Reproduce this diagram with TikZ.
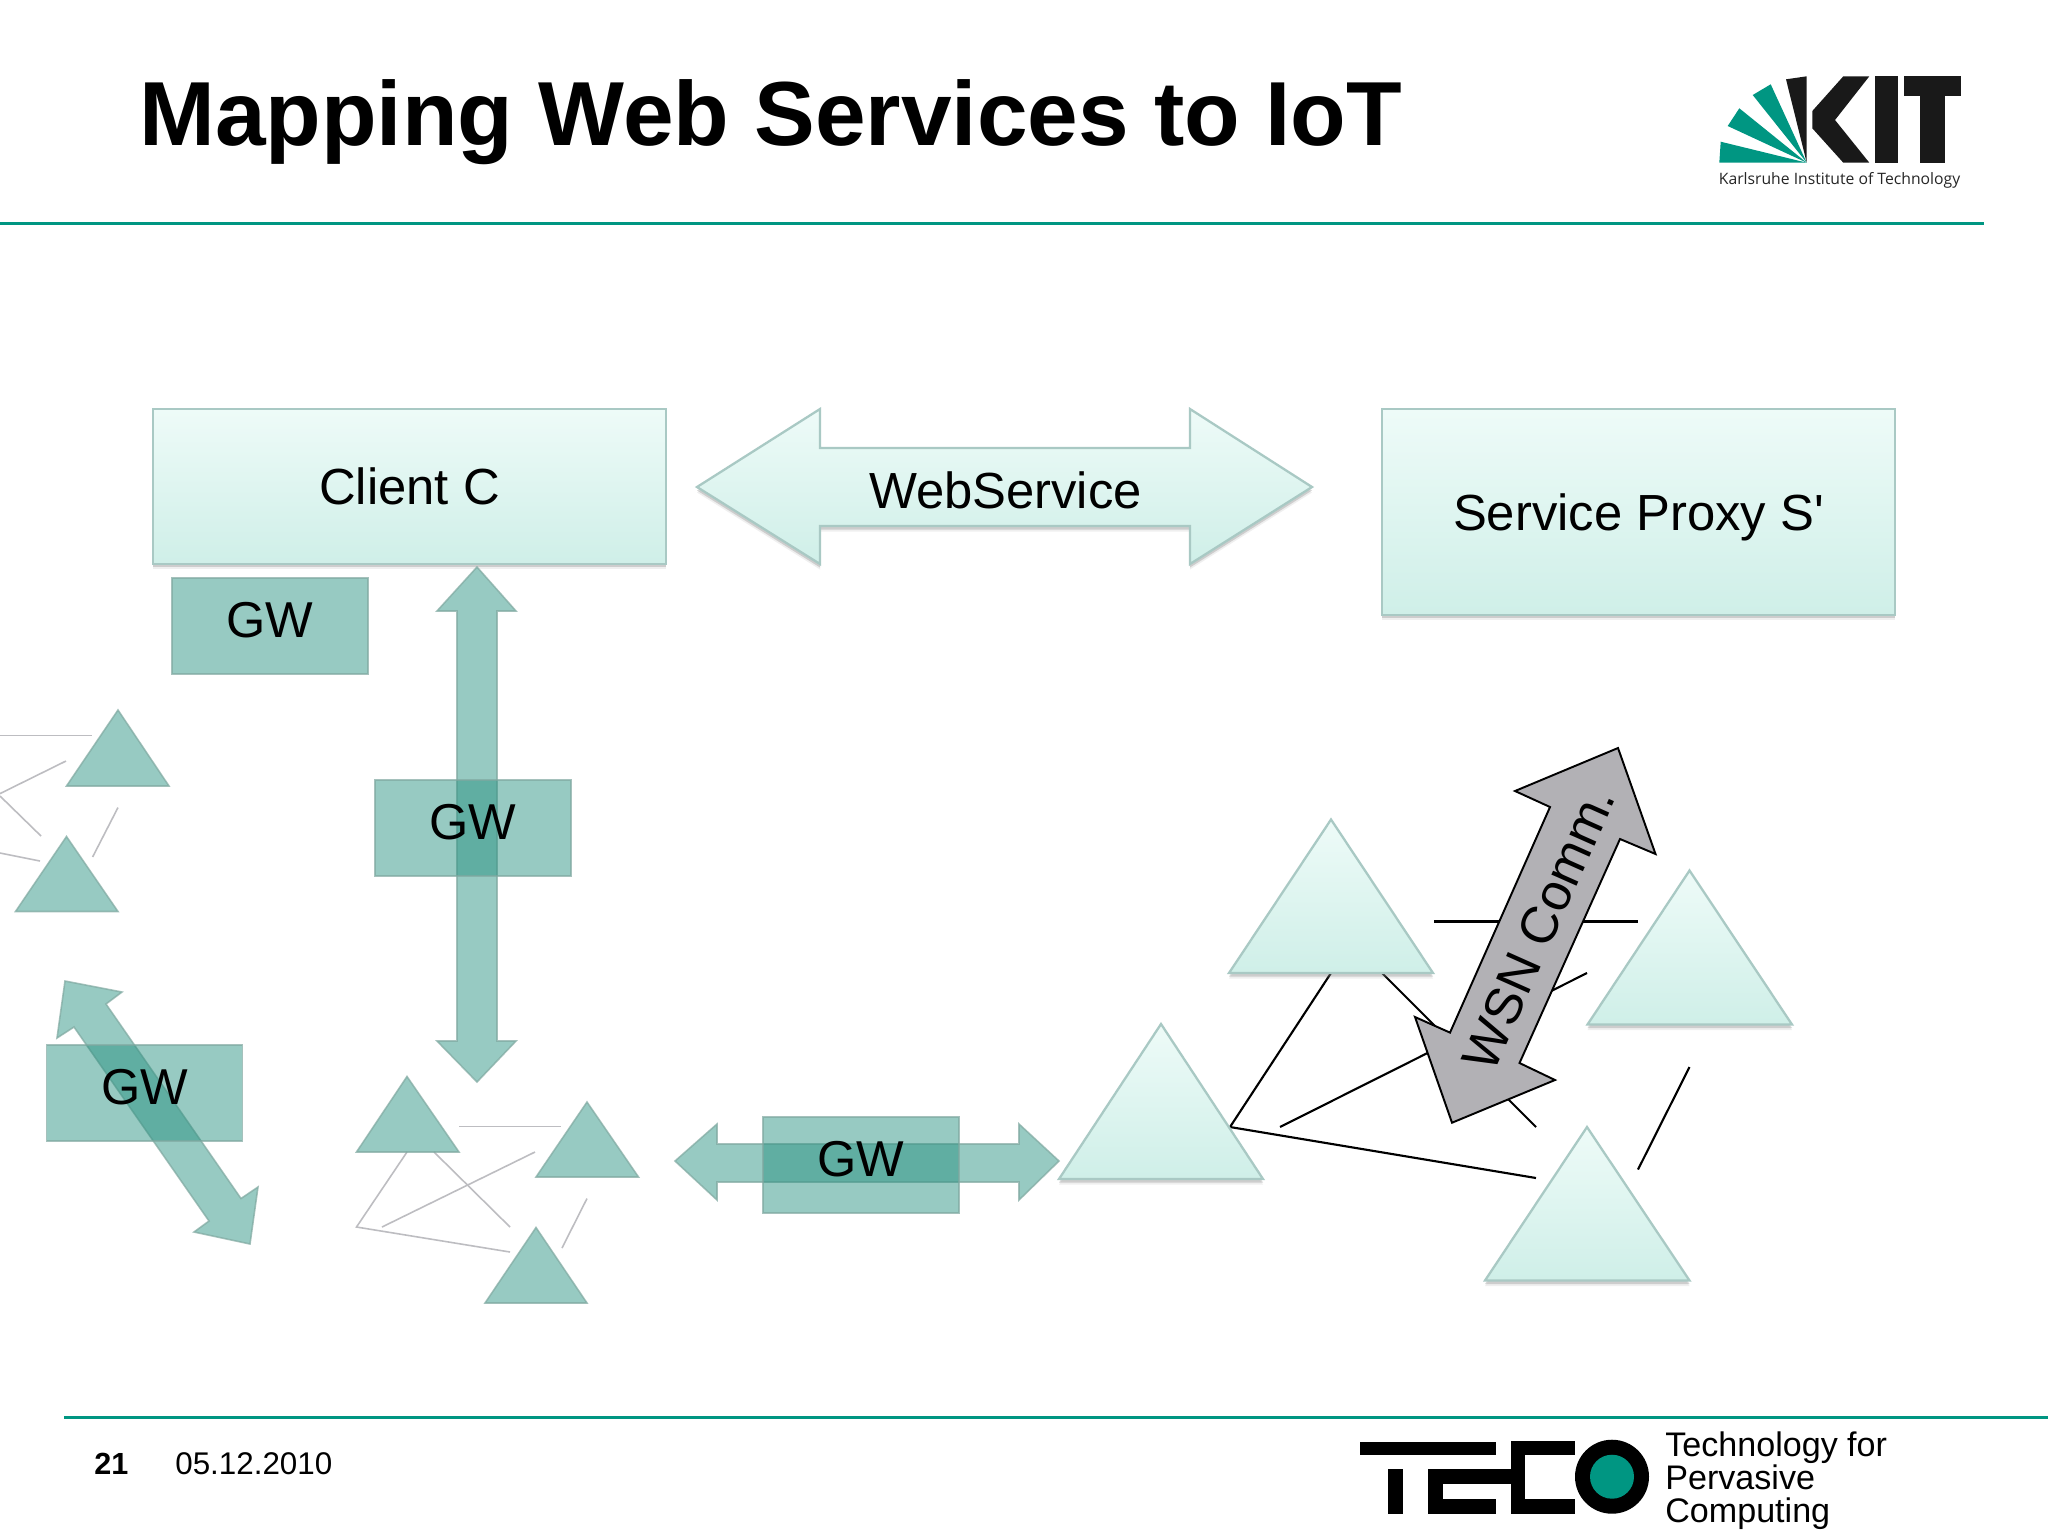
\documentclass[tikz,border=0pt]{standalone}
\usepackage{fontspec}
\setmainfont{Liberation Sans}
\newfontfamily\kitfont{Open Sans}
\usetikzlibrary{shadows}
\definecolor{kitgreen}{HTML}{009682}
\definecolor{mintT}{HTML}{EEFBF8}
\definecolor{mintB}{HTML}{CFEFE8}
\definecolor{mintE}{HTML}{A9C9C4}
\definecolor{tealF}{HTML}{248F7E}
\definecolor{tealE}{HTML}{7FA8A0}
\definecolor{faint}{HTML}{BDBDC1}
\definecolor{wsn}{HTML}{B2B1B5}
\newcommand{\sz}[1]{\fontsize{#1}{#1}\selectfont}
\tikzset{
  x=0.02cm,y=-0.02cm,
  softshadow/.style={
    drop shadow={shadow xshift=0pt,shadow yshift=-0.11cm,fill=black!50,opacity=.12},
    drop shadow={shadow xshift=0pt,shadow yshift=-0.07cm,fill=black!50,opacity=.3}},
  mint/.style={top color=mintT,bottom color=mintB,draw=mintE,line width=1.3pt,softshadow},
  mintbox/.style={mint,rectangle,inner sep=0pt,font=\sz{28.9},text height=20.8pt,text depth=0pt},
  tealshape/.style={fill=tealF,fill opacity=.47,draw=tealE,draw opacity=.7,line width=.9pt},
  gwbox/.style={tealshape,rectangle,minimum width=3.92cm,minimum height=1.92cm,inner sep=0pt,
    text opacity=1,font=\sz{28.7},text height=20.4pt,text depth=6.8pt},
  faintline/.style={draw=faint,line width=.9pt},
  blackline/.style={draw=black,line width=1.2pt},
  lbl/.style={inner sep=0pt,font=\sz{28.9},text height=20.8pt,text depth=0pt},
}
\begin{document}
\begin{tikzpicture}
\useasboundingbox (0,0) rectangle (2048,1536);
\fill[white] (0,0) rectangle (2048,1536);

% title and rules
\node[anchor=base west,inner sep=0pt,font=\sz{51.8}\bfseries] (title) at (139,145) {Mapping Web Services to IoT};
\draw[kitgreen,line width=1.7pt] (0,223.5) -- (1984,223.5);
\draw[kitgreen,line width=1.7pt] (64,1417.5) -- (2048,1417.5);

% KIT logo
\fill[kitgreen] (1719.3,162.7) -- (1720.7,141.7) -- (1806.7,162.7) -- cycle;
\fill[kitgreen] (1727.7,126) -- (1739.3,108.3) -- (1806.7,162.7) -- cycle;
\fill[kitgreen] (1752.7,95) -- (1770.7,84.3) -- (1806.7,162.7) -- cycle;
\fill[black!90] (1786,79.3) -- (1806.7,76.3) -- (1806.7,162.7) -- cycle;
\fill[black!90] (1812.3,111) -- (1843.3,76.3) -- (1869.3,76.3) -- (1835,120) -- (1869.3,162.7) -- (1843.3,162.7) -- (1812.3,128.3) -- cycle;
\fill[black!90] (1875,76.3) rectangle (1898.3,162.7);
\fill[black!90] (1903.7,76.3) rectangle (1960.7,96);
\fill[black!90] (1920,96) rectangle (1945,162.7);
\node[anchor=base west,inner sep=0pt,font=\kitfont\sz{8.95},text=black!85] (kitname) at (1718.5,184.5) {Karlsruhe Institute of Technology};

% footer
\node[anchor=base west,inner sep=0pt,font=\sz{17.4}\bfseries] (pageno) at (94,1474) {21};
\node[anchor=base west,inner sep=0pt,font=\sz{17.85}] (datetext) at (175,1474) {05.12.2010};
% TECO logo
\fill[black] (1360,1441.5) rectangle (1496,1455);
\fill[black] (1388,1469) rectangle (1403,1513.5);
\fill[black] (1428,1469) rectangle (1511,1483.7);
\fill[black] (1428,1469) rectangle (1443,1513.5);
\fill[black] (1428,1499) rectangle (1496,1513.5);
\fill[black] (1511,1440.5) rectangle (1525,1513.5);
\fill[black] (1511,1440.5) rectangle (1575,1455);
\fill[black] (1511,1499) rectangle (1575,1513.5);
\fill[black] (1612,1476.7) ellipse [x radius=37,y radius=37];
\fill[kitgreen] (1612,1476.7) ellipse [x radius=22,y radius=22];
\node[anchor=west,inner sep=0pt,align=left,font=\fontsize{19.4}{18.8}\selectfont] (tecotext) at (1665,1480.6) {Technology for\\Pervasive\\Computing};

% Upper boxes
\node[mintbox,minimum width=10.26cm,minimum height=3.1cm] (client) at (409.5,486.5) {Client C};
\node[mintbox,minimum width=10.26cm,minimum height=4.12cm] (proxy) at (1638.5,512) {Service Proxy S\textquotesingle};
\path[mint] (697,487) -- (820,409) -- (820,448) -- (1190,448) -- (1190,409) -- (1312,487) -- (1190,564) -- (1190,526) -- (820,526) -- (820,564) -- cycle;
\node[lbl] (webservice) at (1005.5,490) {WebService};

% Translucent arrows
\path[tealshape] (477,567) -- (516,611) -- (497,611) -- (497,1041) -- (516,1041) -- (477,1082) -- (437,1041) -- (457,1041) -- (457,611) -- (437,611) -- cycle;
\path[tealshape] (65,981) -- (122,992) -- (106,1004) -- (241,1198.5) -- (258,1187) -- (250,1244) -- (194,1232) -- (209,1221) -- (74,1027) -- (57,1038) -- cycle;
\path[tealshape] (675,1161) -- (717,1124) -- (717,1144) -- (1019,1144) -- (1019,1124) -- (1059,1161) -- (1019,1200) -- (1019,1182) -- (717,1182) -- (717,1200) -- cycle;

% GW boxes
\node[gwbox] (gwa) at (270,626) {GW};
\node[gwbox] (gwb) at (473,828) {GW};
\node[gwbox] (gwc) at (144.5,1093) {GW};
\node[gwbox] (gwd) at (861,1165) {GW};

% Left cluster (faded)
\coordinate (la1) at (0,735.6); \coordinate (la2) at (92,735.6);
\coordinate (lb1) at (66,761);  \coordinate (lb2) at (0,793.6);
\coordinate (lc1) at (0,796);   \coordinate (lc2) at (41,836);
\coordinate (ld1) at (118,807.5); \coordinate (ld2) at (92.6,857);
\coordinate (le1) at (0,853);   \coordinate (le2) at (40,861);
\draw[faintline] (la1) -- (la2);
\draw[faintline] (lb1) -- (lb2);
\draw[faintline] (lc1) -- (lc2);
\draw[faintline] (ld1) -- (ld2);
\draw[faintline] (le1) -- (le2);
\path[tealshape] (118,710) -- (169,786) -- (66.5,786) -- cycle;
\path[tealshape] (66.5,836.5) -- (118,911.5) -- (15.5,911.5) -- cycle;

% Lower middle cluster (faded)
\coordinate (ma1) at (459,1126.5); \coordinate (ma2) at (561,1126.5);
\coordinate (mb1) at (535,1152);   \coordinate (mb2) at (382,1227);
\coordinate (mc1) at (407,1152);   \coordinate (mc2) at (356.5,1227); \coordinate (mc3) at (510,1252);
\coordinate (md1) at (434,1152);   \coordinate (md2) at (510,1227);
\coordinate (me1) at (587,1198.5); \coordinate (me2) at (562,1248);
\draw[faintline] (ma1) -- (ma2);
\draw[faintline] (mb1) -- (mb2);
\draw[faintline] (mc1) -- (mc2) -- (mc3);
\draw[faintline] (md1) -- (md2);
\draw[faintline] (me1) -- (me2);
\path[tealshape] (407,1076.5) -- (459,1152) -- (356.5,1152) -- cycle;
\path[tealshape] (587,1102) -- (638.5,1177) -- (536,1177) -- cycle;
\path[tealshape] (536,1227.5) -- (587,1303) -- (485,1303) -- cycle;

% Right cluster
\coordinate (ra1) at (1434,921.5);   \coordinate (ra2) at (1638,921.5);
\coordinate (rb1) at (1331,973);   \coordinate (rb2) at (1230,1127); \coordinate (rb3) at (1536,1178);
\coordinate (rc1) at (1382,973);   \coordinate (rc2) at (1536,1127);
\coordinate (rd1) at (1587,973);   \coordinate (rd2) at (1280,1127);
\coordinate (re1) at (1689.5,1067); \coordinate (re2) at (1638,1169.5);
\draw[blackline] (ra1) -- (ra2);
\draw[blackline] (rb1) -- (rb2) -- (rb3);
\draw[blackline] (rc1) -- (rc2);
\draw[blackline] (rd1) -- (rd2);
\draw[blackline] (re1) -- (re2);
\path[mint] (1331,819.5) -- (1433,973) -- (1229,973) -- cycle;
\path[mint] (1689.5,870.5) -- (1792,1024.5) -- (1587.5,1024.5) -- cycle;
\path[mint] (1587,1127) -- (1689.5,1280.5) -- (1485,1280.5) -- cycle;
\path[mint] (1161,1024) -- (1263,1179) -- (1059,1179) -- cycle;

% WSN arrow
\path[fill=wsn,draw=black,line width=1.1pt,line join=miter] (1618,748) -- (1655.5,854) -- (1620,839) -- (1519.5,1063) -- (1555,1080) -- (1452,1122.7) -- (1415,1017) -- (1450,1032.6) -- (1550,807) -- (1515,791) -- cycle;
\node[inner sep=0pt,rotate=66,font=\sz{29.6},text height=21.2pt,text depth=0pt] (wsncomm) at (1538,928) {WSN Comm.};
\end{tikzpicture}
\end{document}
